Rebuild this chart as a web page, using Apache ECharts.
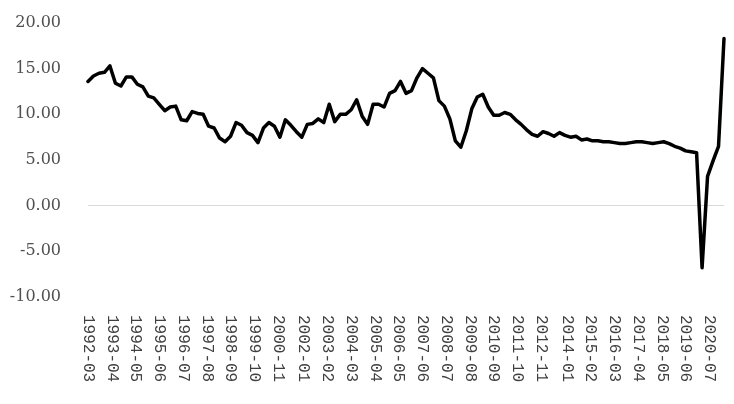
<!DOCTYPE html>
<html>
<head>
<meta charset="utf-8">
<script src="https://cdn.jsdelivr.net/npm/echarts@6/dist/echarts.min.js"></script>
<style>
html,body{margin:0;padding:0;background:#fff;}
#chart{width:734px;height:404px;}
</style>
</head>
<body>
<div id="chart"></div>
<script>
// Quarterly values (first point 1992-03, one value per quarter end month)
var firstMonth = '1992-03';
var lastMonth = '2021-03';
var growth = [
  13.6, 14.2, 14.5, 14.6,
  15.3, 13.4, 13.1, 14.1,
  14.1, 13.3, 13.0, 12.0,
  11.8, 11.1, 10.4, 10.8,
  10.9, 9.4, 9.3, 10.3,
  10.1, 10.0, 8.7, 8.5,
  7.4, 7.0, 7.6, 9.1,
  8.8, 8.0, 7.7, 6.9,
  8.5, 9.1, 8.7, 7.5,
  9.4, 8.8, 8.1, 7.5,
  8.9, 9.0, 9.5, 9.1,
  11.1, 9.2, 10.0, 10.0,
  10.5, 11.6, 9.8, 8.9,
  11.1, 11.1, 10.8, 12.3,
  12.6, 13.6, 12.3, 12.6,
  14.0, 15.0, 14.5, 14.0,
  11.5, 10.9, 9.5, 7.1,
  6.4, 8.2, 10.6, 11.9,
  12.2, 10.8, 9.9, 9.9,
  10.2, 10.0, 9.4, 8.9,
  8.3, 7.8, 7.6, 8.1,
  7.9, 7.6, 8.0, 7.7,
  7.5, 7.6, 7.2, 7.3,
  7.1, 7.1, 7.0, 7.0,
  6.9, 6.8, 6.8, 6.9,
  7.0, 7.0, 6.9, 6.8,
  6.9, 7.0, 6.8, 6.5,
  6.3, 6.0, 5.9, 5.8,
  -6.8, 3.2, 4.9, 6.5,
  18.3
];
var xTickLabels = [
  '1992-03','1993-04','1994-05','1995-06','1996-07','1997-08','1998-09',
  '1999-10','2000-11','2002-01','2003-02','2004-03','2005-04','2006-05',
  '2007-06','2008-07','2009-08','2010-09','2011-10','2012-11','2014-01',
  '2015-02','2016-03','2017-04','2018-05','2019-06','2020-07'
];
var yTicks = [-10, -5, 0, 5, 10, 15, 20];

// Monthly category axis (date-style axis), values placed at quarter-end months
function pad(n){ return (n < 10 ? '0' : '') + n; }
var months = [];
var y = +firstMonth.slice(0,4), m = +firstMonth.slice(5,7);
while (true) {
  var s = y + '-' + pad(m);
  months.push(s);
  if (s === lastMonth) break;
  m++; if (m > 12) { m = 1; y++; }
}
var seriesData = months.map(function(){ return null; });
for (var i = 0; i < growth.length; i++) {
  seriesData[i * 3] = growth[i];
}

var chart = echarts.init(document.getElementById('chart'), null, {renderer:'canvas'});
chart.setOption({
  animation: false,
  backgroundColor: '#ffffff',
  grid: {left: 88, right: 10, top: 23, bottom: 107, containLabel: false},
  xAxis: {
    type: 'category',
    data: months,
    boundaryGap: false,
    axisLine: {show: false},
    axisTick: {show: false},
    splitLine: {show: false},
    axisLabel: {
      interval: function(idx, val){ return xTickLabels.indexOf(val) >= 0; },
      rotate: -90,
      margin: 18,
      color: '#404040',
      fontFamily: 'Liberation Mono',
      fontSize: 16
    }
  },
  yAxis: {
    type: 'value',
    min: yTicks[0],
    max: yTicks[yTicks.length - 1],
    interval: 5,
    axisLine: {show: false},
    axisTick: {show: false},
    splitLine: {show: false},
    axisLabel: {
      margin: 27,
      padding: [4, 0, 0, 0],
      color: '#505050',
      fontFamily: 'DejaVu Serif',
      fontSize: 16,
      formatter: function(v){ return v.toFixed(2); }
    }
  },
  series: [{
    type: 'line',
    data: seriesData,
    connectNulls: true,
    showSymbol: false,
    symbol: 'none',
    smooth: false,
    lineStyle: {color: '#000000', width: 3.5, join: 'round', cap: 'round'},
    z: 3,
    markLine: {
      silent: true,
      symbol: 'none',
      label: {show: false},
      lineStyle: {color: '#d9d9d9', width: 1, type: 'solid'},
      data: [{yAxis: 0}],
      z: 1
    }
  }]
});
</script>
</body>
</html>
